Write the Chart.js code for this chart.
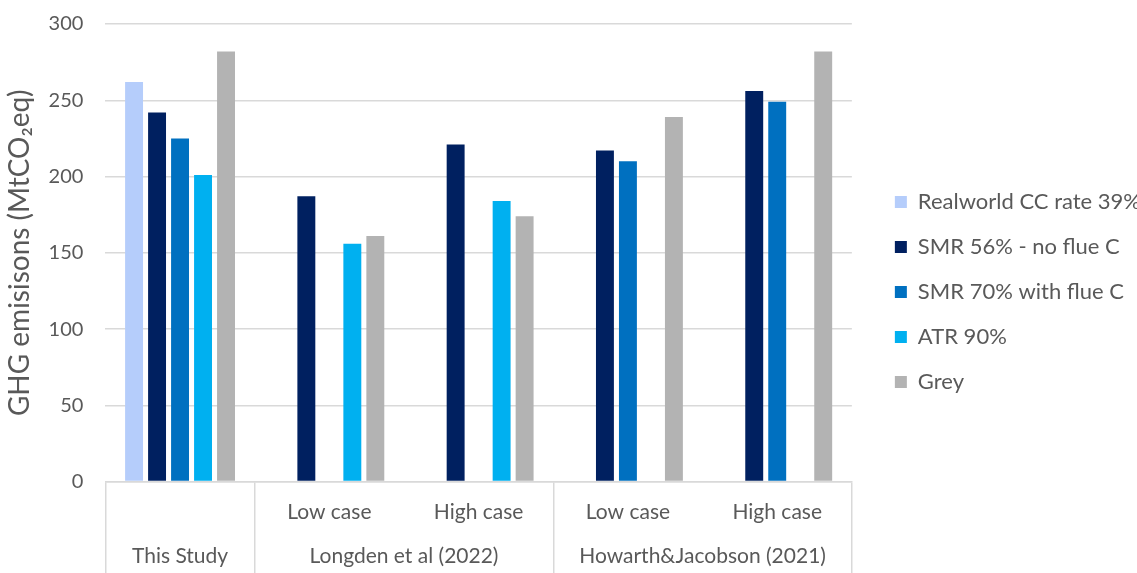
<!DOCTYPE html>
<html>
<head>
<meta charset="utf-8">
<script src="https://cdn.jsdelivr.net/npm/chart.js@4"></script>
<style>
    html, body { margin: 0; padding: 0; background: #fff; overflow: hidden; }
    #wrap { position: relative; width: 1137px; height: 573px; }
</style>
</head>
<body>
<div id="wrap"><canvas id="ghgChart"></canvas></div>
<script>
const subLabels = ["", "Low case", "High case", "Low case", "High case"];
const groupLabels = ["This Study", "Longden et al (2022)", "Howarth&Jacobson (2021)"];
const groupCenters = [0.5, 2, 4];   // in category units
const groupEdges = [0, 1, 3, 5];

const realworld = [262, null, null, null, null];
const smr56 = [242, 187, 221, 217, 256];
const smr70 = [225, null, null, 210, 249];
const atr90 = [201, 156, 184, null, null];
const grey = [282, 161, 174, 239, 282];

const yTicks = [0, 50, 100, 150, 200, 250, 300];

const textColor = "#595959";
const lineColor = "#d9d9d9";

// half-category row for the group labels, category-edge row for the separators
const groupRow = Array(subLabels.length * 2 + 1).fill("");
groupCenters.forEach((c, i) => { groupRow[c * 2] = groupLabels[i]; });
const edgeRow = Array(subLabels.length + 1).fill("");

function bars(label, data, color) {
    return {
        label: label,
        data: data,
        backgroundColor: color,
        xAxisID: "x",
        yAxisID: "y",
        categoryPercentage: 0.77,
        barPercentage: 0.78
    };
}

new Chart(document.getElementById("ghgChart"), {
    type: "bar",
    data: {
        labels: subLabels,
        datasets: [
            bars("Realworld CC rate 39%", realworld, "#b5cdfb"),
            bars("SMR 56% - no flue C", smr56, "#002060"),
            bars("SMR 70% with flue C", smr70, "#0070c0"),
            bars("ATR 90%", atr90, "#00b0f0"),
            bars("Grey", grey, "#b3b3b3")
        ]
    },
    options: {
        responsive: true,
        maintainAspectRatio: false,
        animation: false,
        layout: { padding: { left: 0, top: 14, right: -14, bottom: 3 } },
        plugins: {
            tooltip: { enabled: false },
            legend: {
                position: "right",
                labels: {
                    boxWidth: 12,
                    boxHeight: 12,
                    padding: 23,
                    color: textColor,
                    font: { family: "Lato", size: 22 }
                }
            }
        },
        scales: {
            y: {
                min: 0,
                max: 300,
                afterBuildTicks: (s) => { s.ticks = yTicks.map(v => ({ value: v })); },
                grid: { color: lineColor, lineWidth: 1.5, tickLength: 10, tickColor: "rgba(0,0,0,0)" },
                border: { display: false },
                ticks: { color: textColor, font: { family: "Lato", size: 20 }, padding: 12 },
                title: {
                    display: true,
                    text: "GHG emisisons (MtCO\u2082eq)",
                    color: textColor,
                    font: { family: "Lato", size: 28 },
                    padding: { top: 3, bottom: 0 }
                }
            },
            yPad: {
                position: "right",
                display: false,
                afterFit: (s) => { s.width = 20; }
            },
            xSep: {
                type: "category",
                labels: edgeRow,
                position: "bottom",
                weight: 0,
                offset: false,
                grid: {
                    offset: false,
                    drawOnChartArea: false,
                    tickLength: 100,
                    lineWidth: 1.5,
                    color: (ctx) => groupEdges.includes(ctx.index) ? lineColor : "rgba(0,0,0,0)"
                },
                border: { display: true, color: lineColor, width: 1.5 },
                ticks: { display: false, autoSkip: false },
                afterFit: (s) => { s.height = 0; }
            },
            x: {
                position: "bottom",
                weight: 1,
                grid: { display: false, drawTicks: false },
                border: { display: false },
                ticks: { color: textColor, font: { family: "Lato", size: 21 }, padding: 18, maxRotation: 0, autoSkip: false }
            },
            x2: {
                type: "category",
                labels: groupRow,
                position: "bottom",
                weight: 2,
                offset: false,
                grid: { display: false, drawTicks: false, offset: false },
                border: { display: false },
                ticks: { color: textColor, font: { family: "Lato", size: 21 }, padding: 1, maxRotation: 0, autoSkip: false }
            }
        }
    }
});
</script>
</body>
</html>
